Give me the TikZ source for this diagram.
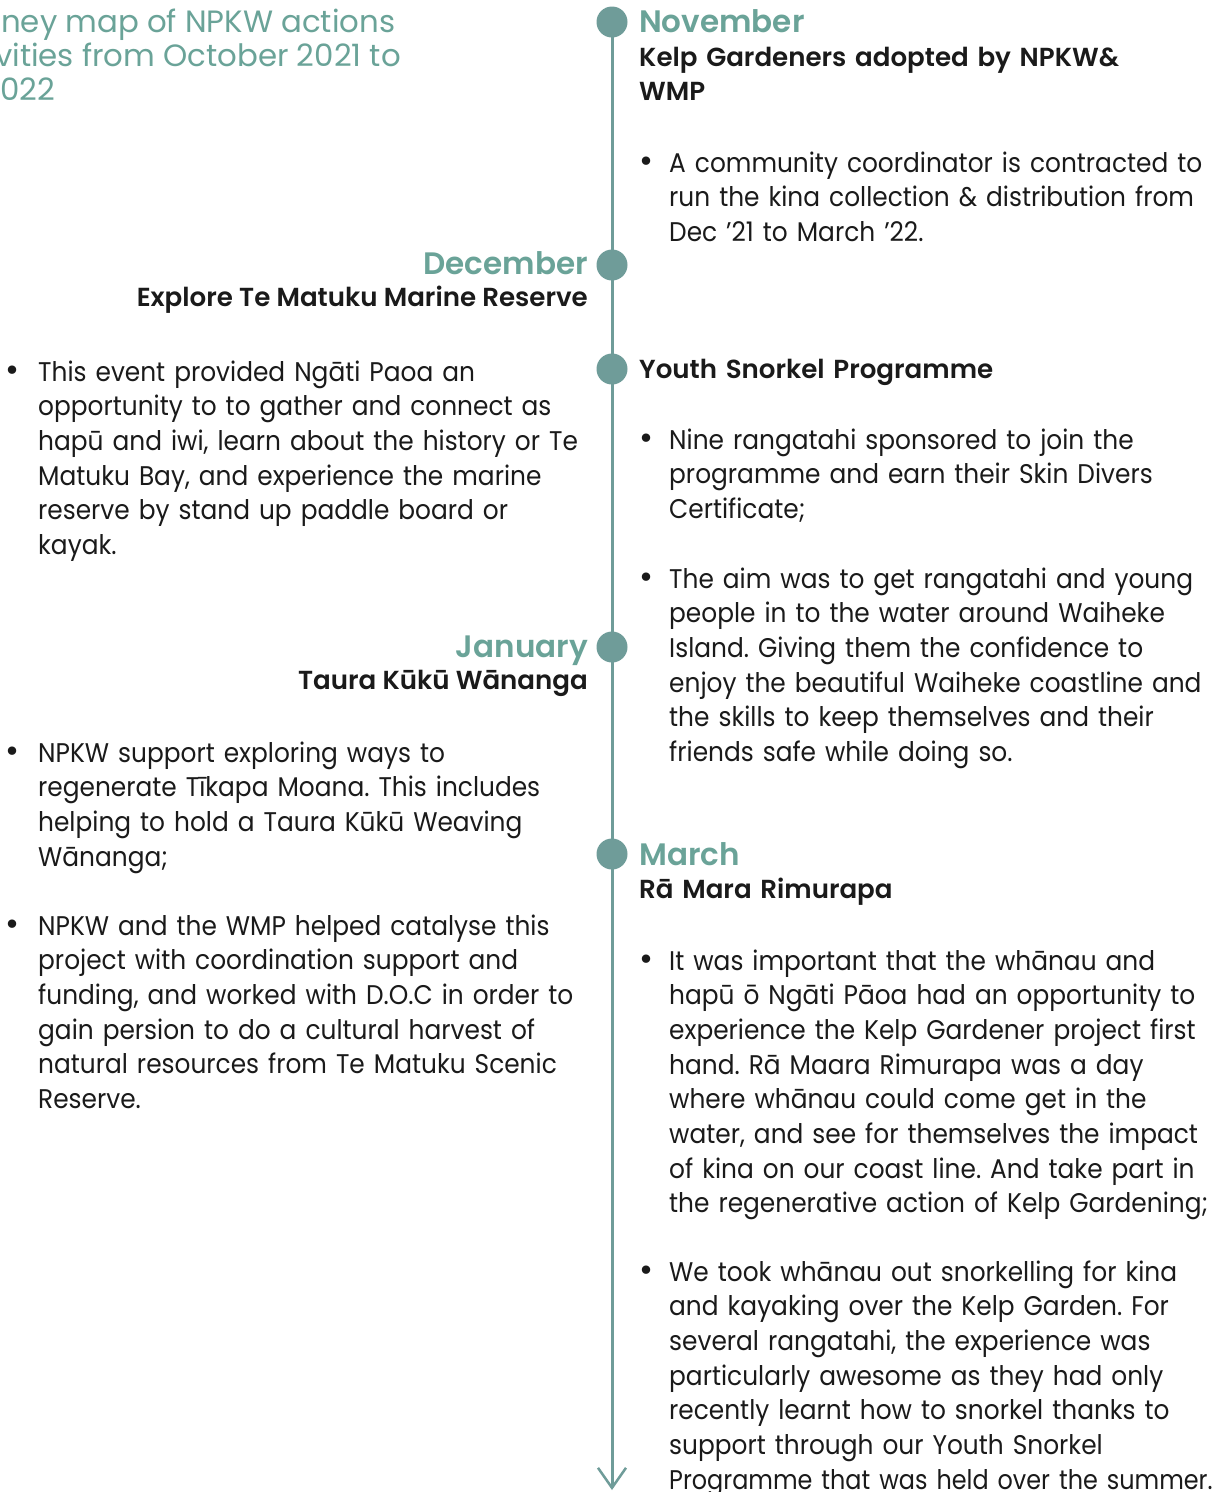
\documentclass[tikz,border=0pt]{standalone}
\usepackage{fontspec}
\setmainfont{Poppins}
\newfontfamily\bodyf{Poppins}[FakeStretch=0.92]
\newfontfamily\bodyfn{Poppins}[FakeStretch=0.885]
\newfontfamily\titlef{Poppins}
\newfontfamily\headf{Poppins SemiBold}
\usetikzlibrary{arrows.meta}
\definecolor{monthc}{HTML}{6AA398}
\definecolor{linec}{HTML}{6F9C99}
\definecolor{bodyc}{HTML}{1A1A1A}
\frenchspacing
\begin{document}
\begin{tikzpicture}[x=1pt,y=-1pt,
  bodytxt/.style={anchor=base west, inner sep=0pt, align=left, text width=800pt, text=bodyc,
    font=\bodyf\fontsize{27}{34.67}\selectfont\frenchspacing},
  bul/.style={anchor=base, inner sep=0pt, text=bodyc, font=\titlef\fontsize{34}{34.67}\selectfont},
  titletxt/.style={anchor=base west, inner sep=0pt, text=monthc, font=\titlef\fontsize{30.8}{34}\selectfont},
  monthR/.style={anchor=base west, inner sep=0pt, text=monthc, font=\headf\fontsize{31}{34}\selectfont},
  monthL/.style={anchor=base east, inner sep=0pt, text=monthc, font=\headf\fontsize{31}{34}\selectfont},
  subR/.style={anchor=base west, inner sep=0pt, align=left, text width=800pt, text=bodyc, font=\headf\fontsize{26.1}{34.5}\selectfont},
  subL/.style={anchor=base east, inner sep=0pt, text=bodyc, font=\headf\fontsize{26.1}{34.5}\selectfont},
  dot/.style={circle, fill=linec, inner sep=0pt, minimum size=31pt},
  tl/.style={draw=linec, line width=3pt}
]
\useasboundingbox (0,0) rectangle (1225,1492);
\clip (0,0) rectangle (1225,1492);
\fill[white] (0,0) rectangle (1225,1492);

% title
\node[titletxt] (t1) at (1,32) {ney map of NPKW actions};
\node[titletxt] (t2) at (-5,66) {vities from October 2021 to};
\node[titletxt] (t3) at (0,100) {022};

% timeline
\coordinate (ltop) at (612,22);
\coordinate (lend) at (612,1490);
\draw[tl, -{Straight Barb[length=20pt,width=28pt,line width=2.5pt]}] (ltop) -- (lend);
\node[dot] (d1) at (612,22) {};
\node[dot] (d2) at (612,265) {};
\node[dot] (d3) at (612,369) {};
\node[dot] (d4) at (612,647) {};
\node[dot] (d5) at (612,854) {};

% November
\node[monthR] (m1) at (639,32) {November};
\node[subR] (s1) at (639,66) {Kelp Gardeners adopted by NPKW\&\\WMP};
\node[bul] (b1) at (646,172) {•};
\node[bodytxt] (p1) at (669,172) {A community coordinator is contracted to\\run the kina collection \& distribution from\\Dec ’21 to March ’22.};

% December
\node[monthL] (m2) at (588,274) {December};
\node[subL] (s2) at (588,306) {Explore Te Matuku Marine Reserve};
\node[bul] (b2) at (13,381) {•};
\node[bodytxt] (p2) at (38,381) {This event provided Ngāti Paoa an\\opportunity to to gather and connect as\\hapū and iwi, learn about the history or Te\\Matuku Bay, and experience the marine\\reserve by stand up paddle board or\\kayak.};

% Youth Snorkel
\node[subR] (s3) at (639,378) {Youth Snorkel Programme};
\node[bul] (b3) at (646,449) {•};
\node[bodytxt] (p3) at (669,449) {Nine rangatahi sponsored to join the\\programme and earn their Skin Divers\\Certificate;};
\node[bul] (b4) at (646,588) {•};
\node[bodytxt] (p4) at (669,588) {The aim was to get rangatahi and young\\people in to the water around Waiheke\\Island. Giving them the confidence to\\enjoy the beautiful Waiheke coastline and\\the skills to keep themselves and their\\friends safe while doing so.};

% January
\node[monthL] (m3) at (588,657) {January};
\node[subL] (s4) at (588,689) {Taura Kūkū Wānanga};
\node[bul] (b5) at (13,762) {•};
\node[bodytxt] (p5) at (38,762) {NPKW support exploring ways to\\regenerate Tīkapa Moana. This includes\\helping to hold a Taura Kūkū Weaving\\Wānanga;};
\node[bul] (b6) at (13,935) {•};
\node[bodytxt] (p6) at (38,935) {NPKW and the WMP helped catalyse this\\project with coordination support and\\funding, and worked with D.O.C in order to\\gain persion to do a cultural harvest of\\natural resources from Te Matuku Scenic\\Reserve.};

% March
\node[monthR] (m4) at (639,865) {March};
\node[subR] (s5) at (639,898) {Rā Mara Rimurapa};
\node[bul] (b7) at (646,970) {•};
\node[bodytxt] (p7) at (669,970) {It was important that the whānau and\\hapū ō Ngāti Pāoa had an opportunity to\\experience the Kelp Gardener project first\\hand. Rā Maara Rimurapa was a day\\where whānau could come get in the\\water, and see for themselves the impact\\of kina on our coast line. And take part in\\the regenerative action of Kelp Gardening;};
\node[bul] (b8) at (646,1281) {•};
\node[bodytxt] (p8) at (669,1281) {We took whānau out snorkelling for kina\\and kayaking over the Kelp Garden. For\\several rangatahi, the experience was\\particularly awesome as they had only\\recently learnt how to snorkel thanks to\\support through our Youth Snorkel\\{\bodyfn Programme that was held over the summer.}};
\end{tikzpicture}
\end{document}
